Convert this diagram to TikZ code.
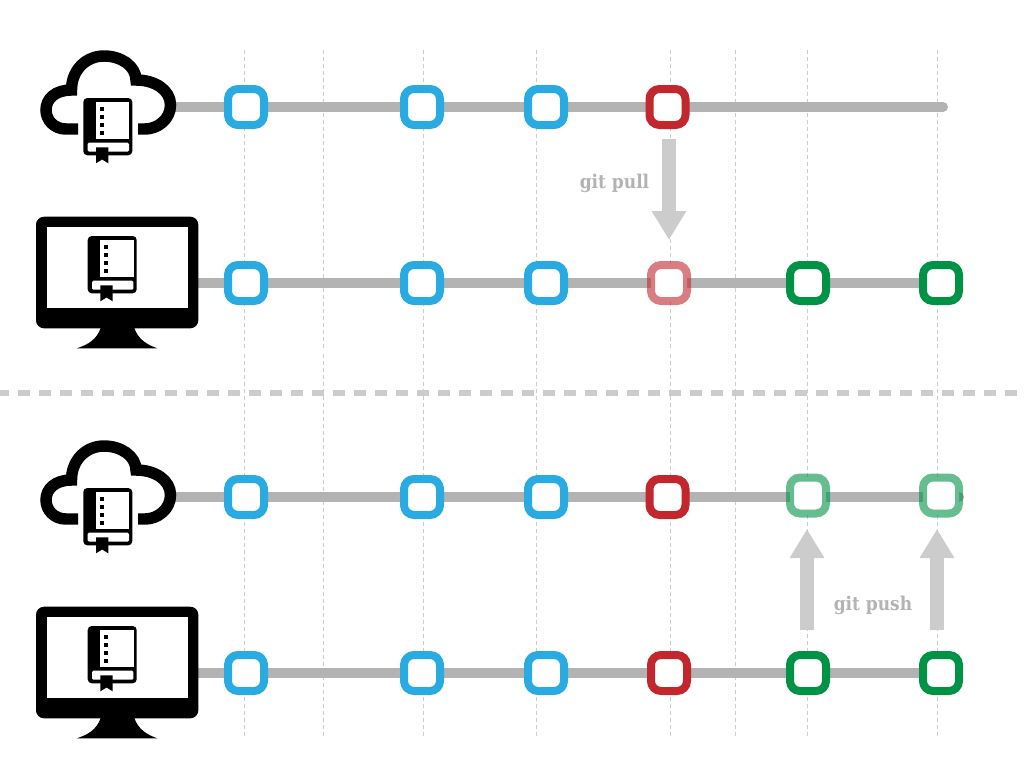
\documentclass[tikz,border=0pt]{standalone}
\usepackage{fontspec}
\newfontfamily\gitfont{DejaVu Serif Condensed}
\usetikzlibrary{arrows.meta,backgrounds}

\definecolor{commitblue}{HTML}{29ABE2}
\definecolor{commitred}{HTML}{C1272D}
\definecolor{commitgreen}{HTML}{009245}
\definecolor{branchgray}{HTML}{B3B3B3}
\definecolor{arrowgray}{HTML}{CCCCCC}

\tikzset{
    commit/.style={draw=#1, fill=white, line width=6pt, rounded corners=7.5pt, minimum size=27pt, inner sep=0pt, outer sep=0pt},
    faded/.style={draw opacity=0.6},
    branch/.style={line width=7.5pt, draw=branchgray, line cap=round},
    guide/.style={line width=0.75pt, draw=arrowgray, dash pattern=on 3pt off 2.25pt},
    transfer/.style={line width=10.5pt, draw=arrowgray, -{Triangle[length=21.75pt,width=24.5pt]}},
    gitlabel/.style={text=branchgray, font=\gitfont\bfseries\fontsize{14.2pt}{16pt}\selectfont},
    book/.pic={
        \fill[black, rounded corners=3pt] (0,0) rectangle (49,57.3);
        \fill[white] (12.7,3.7) rectangle (46,41);
        \fill[white, rounded corners=1pt] (4.4,44.7) rectangle (45.7,53.7);
        \fill[black] (12.7,49.3) -- (25,49.3) -- (25,65.3) -- (18.8,61.5) -- (12.7,65.3) -- cycle;
        \fill[black] (16.7,8.7) rectangle (20.7,12.7);
        \fill[black] (16.7,16.7) rectangle (20.7,20.7);
        \fill[black] (16.7,24.7) rectangle (20.7,28.7);
        \fill[black] (16.7,32.7) rectangle (20.7,36.7);
    },
    cloudbook/.pic={
        \draw[black, line width=8.6pt] (78,129) -- (66,129) .. controls (54,129) and (46,120) .. (46,110)
            .. controls (46,99) and (55,90) .. (71.5,90) .. controls (71.5,70) and (86,56) .. (104,56)
            .. controls (121,56) and (136,66) .. (136,80) .. controls (155,80) and (170.5,90) .. (170.5,105)
            .. controls (170.5,119) and (158,129) .. (145,129) -- (138,129);
        \pic at (83.3,98) {book};
    },
    screenbook/.pic={
        \fill[black, rounded corners=6pt] (36,216.7) rectangle (198.3,328.3);
        \fill[white] (46.7,226.7) rectangle (188,307.7);
        \fill[black] (101,327) .. controls (97,340) and (87,345) .. (76.7,348.3) -- (157.3,348.3)
            .. controls (148,345) and (138,340) .. (134,327) -- cycle;
        \pic at (87.7,236) {book};
    }
}

\begin{document}
\begin{tikzpicture}[x=0.75pt, y=-0.75pt]
    \useasboundingbox (0,0) rectangle (1024,768);

    % Separator
    \draw[line width=4.5pt, draw=arrowgray, dash pattern=on 9pt off 6.75pt, dash phase=2.25pt] (0,393) -- (1024,393);

    % Branch ends
    \coordinate (remoteA) at (170,107);
    \coordinate (remoteAend) at (943,107);
    \coordinate (localA) at (195,283);
    \coordinate (remoteB) at (170,497);
    \coordinate (remoteBend) at (959,497);
    \coordinate (localB) at (195,673);

    % Commits, remote before pull
    \node[commit=commitblue] (ra1) at (246,107) {};
    \node[commit=commitblue] (ra2) at (422,107) {};
    \node[commit=commitblue] (ra3) at (546,107) {};
    \node[commit=commitred] (ra4) at (667.5,107) {};

    % Commits, local before pull
    \node[commit=commitblue] (la1) at (246,283) {};
    \node[commit=commitblue] (la2) at (422,283) {};
    \node[commit=commitblue] (la3) at (546,283) {};
    \node[commit=commitred, faded] (la4) at (669,283) {};
    \node[commit=commitgreen] (la5) at (808,283) {};
    \node[commit=commitgreen] (la6) at (941,283) {};

    % Commits, remote after push
    \node[commit=commitblue] (rb1) at (246,497) {};
    \node[commit=commitblue] (rb2) at (422,497) {};
    \node[commit=commitblue] (rb3) at (546,497) {};
    \node[commit=commitred] (rb4) at (667.5,497) {};
    \node[commit=commitgreen, faded] (rb5) at (808,495.5) {};
    \node[commit=commitgreen, faded] (rb6) at (941,495.5) {};

    % Commits, local after push
    \node[commit=commitblue] (lb1) at (246,673) {};
    \node[commit=commitblue] (lb2) at (422,673) {};
    \node[commit=commitblue] (lb3) at (546,673) {};
    \node[commit=commitred] (lb4) at (669,673) {};
    \node[commit=commitgreen] (lb5) at (808,673) {};
    \node[commit=commitgreen] (lb6) at (941,673) {};

    \begin{pgfonlayer}{background}
        % Guides
        \draw[guide] (244,50) -- (244,348) (244,354) -- (244,738);
        \draw[guide] (323,50) -- (323,348) (323,354) -- (323,738);
        \draw[guide] (423,50) -- (423,348) (423,354) -- (423,738);
        \draw[guide] (536,50) -- (536,348) (536,354) -- (536,738);
        \draw[guide] (670,50) -- (670,348) (670,354) -- (670,738);
        \draw[guide] (735,50) -- (735,348) (735,354) -- (735,738);
        \draw[guide] (807,50) -- (807,348) (807,354) -- (807,738);
        \draw[guide] (937,50) -- (937,348) (937,354) -- (937,738);

        % Branches
        \draw[branch] (remoteA) -- (ra1.center) -- (ra2.center) -- (ra3.center) -- (ra4.center) -- (remoteAend);
        \draw[branch] (localA) -- (la1.center) -- (la2.center) -- (la3.center) -- (la4.center) -- (la5.center) -- (la6.center);
        \draw[branch] (remoteB) -- (rb1.center) -- (rb2.center) -- (rb3.center) -- (rb4.center) -- (remoteBend);
        \draw[branch] (localB) -- (lb1.center) -- (lb2.center) -- (lb3.center) -- (lb4.center) -- (lb5.center) -- (lb6.center);
    \end{pgfonlayer}

    % Icons
    \pic at (0,0) {cloudbook};
    \pic at (0,0) {screenbook};
    \pic at (0,390) {cloudbook};
    \pic at (0,390) {screenbook};

    % Pull
    \coordinate (pullFrom) at (669,139);
    \coordinate (pullTo) at (669,240);
    \draw[transfer] (pullFrom) -- (pullTo);
    \node[gitlabel] (pullText) at (614.5,183) {git pull};

    % Push
    \coordinate (pushFromA) at (807,630);
    \coordinate (pushToA) at (807,529);
    \coordinate (pushFromB) at (937,630);
    \coordinate (pushToB) at (937,529);
    \draw[transfer] (pushFromA) -- (pushToA);
    \draw[transfer] (pushFromB) -- (pushToB);
    \node[gitlabel] (pushText) at (873,605) {git push};
\end{tikzpicture}
\end{document}
